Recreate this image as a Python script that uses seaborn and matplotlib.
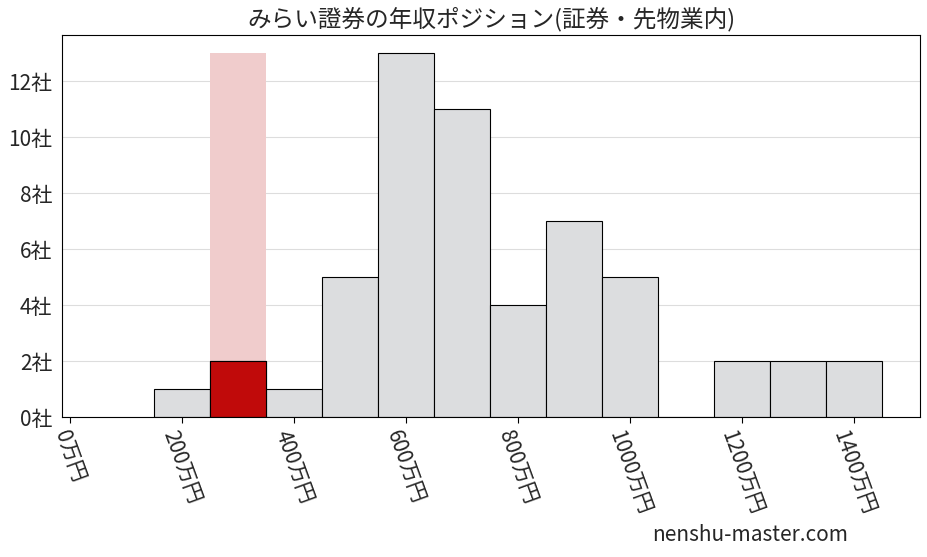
import numpy as np
import pandas as pd
import matplotlib.pyplot as plt
import seaborn as sns

# データ（万円単位の階級中心と社数）
bin_centers = [200, 300, 400, 500, 600, 700, 800, 900, 1000, 1100, 1200, 1300, 1400]
counts = [1, 2, 1, 5, 13, 11, 4, 7, 5, 0, 2, 2, 2]
highlight_center = [300]
highlight_height = [13]
highlight_count = [2]
x_ticks = [0, 200, 400, 600, 800, 1000, 1200, 1400]
y_ticks = [0, 2, 4, 6, 8, 10, 12]

sns.set_style("white")
plt.rcParams['font.family'] = ['Noto Sans CJK JP', 'DejaVu Sans']

fig = plt.figure(figsize=(9.27, 5.57), dpi=100)
ax = fig.add_axes([62 / 927, 1 - 417 / 557, (920 - 62) / 927, (417 - 35) / 557])

edges = [float(e) for e in np.arange(150, 1451, 100)]
df = pd.DataFrame({'x': bin_centers, 'w': counts})
df_bg = pd.DataFrame({'x': highlight_center, 'w': highlight_height})
df_hl = pd.DataFrame({'x': highlight_center, 'w': highlight_count})

# 強調表示の背景
sns.histplot(data=df_bg, x='x', weights='w', bins=[250.0, 350.0],
             color='#f0cccc', alpha=1, edgecolor='none', linewidth=0, ax=ax)
# 全体の分布
sns.histplot(data=df, x='x', weights='w', bins=edges,
             color='#dcdddf', alpha=1, edgecolor='black', linewidth=0.8, ax=ax)
# 該当企業の階級
sns.histplot(data=df_hl, x='x', weights='w', bins=[250.0, 350.0],
             color='#c00a0a', alpha=1, edgecolor='black', linewidth=0.8, ax=ax)

ax.set_xlim(-14, 1518)
ax.set_ylim(0, 13.65)
ax.set_xticks(x_ticks)
ax.set_xticklabels([f'{v}万円' for v in x_ticks], rotation=-70, ha='center', va='top', fontsize=15)
ax.set_yticks(y_ticks)
ax.set_yticklabels([f'{v}社' for v in y_ticks], fontsize=15)
ax.yaxis.grid(True, color='#dddddd', linewidth=0.8)
ax.set_axisbelow(True)
ax.set_xlabel('')
ax.set_ylabel('')
ax.tick_params(axis='x', length=4, color='black', bottom=True)
for s in ax.spines.values():
    s.set_color('black')
    s.set_linewidth(0.8)

ax.set_title('みらい證券の年収ポジション(証券・先物業内)', fontsize=17, pad=6)
fig.text(0.915, 0.02, 'nenshu-master.com', ha='right', va='bottom', fontsize=15)

fig.savefig('out.png', dpi=100)
